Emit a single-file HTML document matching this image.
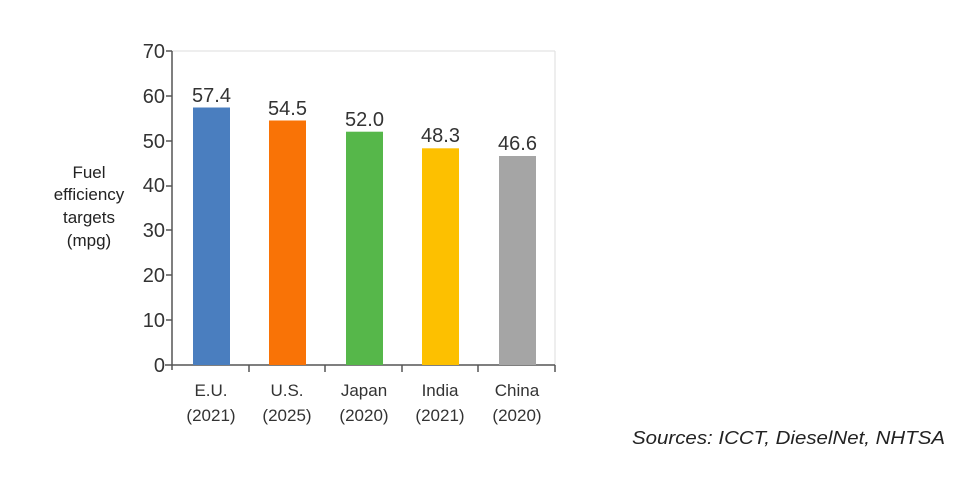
<!DOCTYPE html>
<html><head><meta charset="utf-8"><style>
html,body{margin:0;padding:0;background:#fff;}
svg text{font-family:"Liberation Sans",Arial,sans-serif;}
</style></head><body>
<svg width="980" height="475" viewBox="0 0 980 475" xmlns="http://www.w3.org/2000/svg">
<rect width="980" height="475" fill="#fff"/>
<line x1="172" y1="51" x2="555" y2="51" stroke="#ddd" stroke-width="1"/>
<line x1="555" y1="51" x2="555" y2="365" stroke="#ddd" stroke-width="1"/>
<g fill="#333" font-size="20" text-anchor="end">
<text x="165" y="372">0</text>
<text x="165" y="327">10</text>
<text x="165" y="282">20</text>
<text x="165" y="237">30</text>
<text x="165" y="192">40</text>
<text x="165" y="148">50</text>
<text x="165" y="103">60</text>
<text x="165" y="58">70</text>
</g>
<g stroke="#555" stroke-width="1.5">
<line x1="172" y1="51" x2="172" y2="370"/>
<line x1="165" y1="365" x2="555" y2="365"/>
<line x1="166" y1="51" x2="172" y2="51"/><line x1="166" y1="96" x2="172" y2="96"/>
<line x1="166" y1="141" x2="172" y2="141"/><line x1="166" y1="186" x2="172" y2="186"/>
<line x1="166" y1="230" x2="172" y2="230"/><line x1="166" y1="275" x2="172" y2="275"/>
<line x1="166" y1="320" x2="172" y2="320"/>
<line x1="249" y1="365" x2="249" y2="372"/><line x1="325" y1="365" x2="325" y2="372"/>
<line x1="402" y1="365" x2="402" y2="372"/><line x1="478" y1="365" x2="478" y2="372"/>
<line x1="555" y1="365" x2="555" y2="372"/>
</g>
<rect x="193" y="107.5" width="37" height="257.5" fill="#4a7ebf"/>
<rect x="269" y="120.5" width="37" height="244.5" fill="#f97306"/>
<rect x="346" y="131.7" width="37" height="233.3" fill="#56b74a"/>
<rect x="422" y="148.3" width="37" height="216.7" fill="#fdc000"/>
<rect x="499" y="156" width="37" height="209" fill="#a5a5a5"/>
<g fill="#333" font-size="20" text-anchor="middle">
<text x="211.5" y="102">57.4</text>
<text x="287.5" y="115">54.5</text>
<text x="364.5" y="126">52.0</text>
<text x="440.5" y="142">48.3</text>
<text x="517.5" y="150">46.6</text>
</g>
<g fill="#333" font-size="17" text-anchor="middle">
<text x="211" y="396">E.U.</text><text x="211" y="421">(2021)</text>
<text x="287" y="396">U.S.</text><text x="287" y="421">(2025)</text>
<text x="364" y="396">Japan</text><text x="364" y="421">(2020)</text>
<text x="440" y="396">India</text><text x="440" y="421">(2021)</text>
<text x="517" y="396">China</text><text x="517" y="421">(2020)</text>
</g>
<g fill="#222" font-size="17" text-anchor="middle">
<text x="89" y="178">Fuel</text>
<text x="89" y="200">efficiency</text>
<text x="89" y="223">targets</text>
<text x="89" y="246">(mpg)</text>
</g>
<text x="632" y="444" textLength="313" lengthAdjust="spacingAndGlyphs" font-size="18" font-style="italic" fill="#222">Sources: ICCT, DieselNet, NHTSA</text>
</svg>
</body></html>
